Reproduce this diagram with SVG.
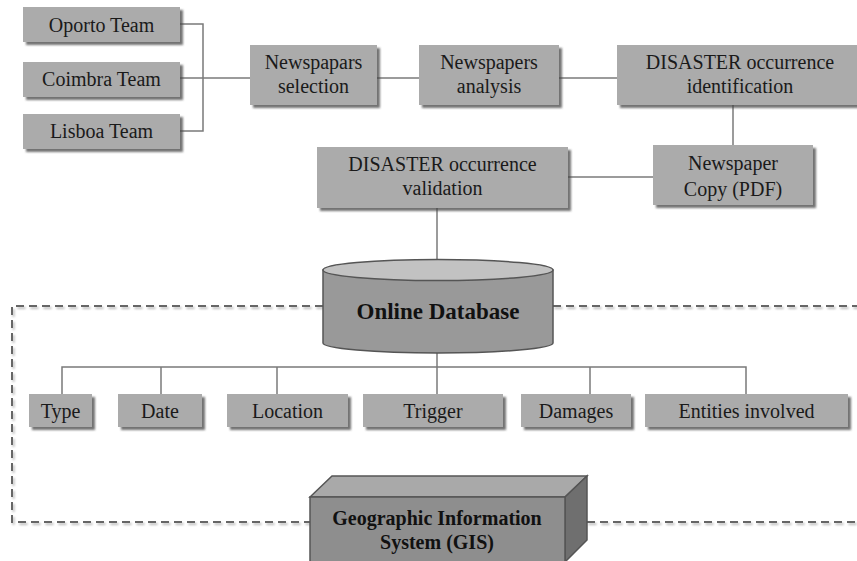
<svg xmlns="http://www.w3.org/2000/svg" width="857" height="561" viewBox="0 0 857 561">
<style>
.box{fill:#ababab;filter:url(#sh)}
.t{font-family:"Liberation Serif","Times New Roman",serif;font-size:20px;fill:#1a1a1a;text-anchor:middle}
.tb{font-family:"Liberation Serif","Times New Roman",serif;font-weight:bold;fill:#111;text-anchor:middle}
.c{fill:none;stroke:#7a7a7a;stroke-width:1.5}
.dash{fill:none;stroke:#666;stroke-width:2;stroke-dasharray:8 5;filter:url(#dsh)}
.solid{stroke:#555;stroke-width:1.5}
</style>
<defs>
<filter id="sh" x="-10%" y="-10%" width="130%" height="140%">
<feDropShadow dx="3" dy="3" stdDeviation="1.3" flood-color="#444" flood-opacity="0.75"/>
</filter>
<filter id="dsh" filterUnits="userSpaceOnUse" x="0" y="0" width="857" height="561">
<feDropShadow dx="1.5" dy="2" stdDeviation="1.2" flood-color="#888" flood-opacity="0.6"/>
</filter>
</defs>
<rect width="857" height="561" fill="#fff"/>

<g id="frame">
<path class="dash" d="M323 306 H12 V522 H310"/>
<path class="dash" d="M553 306 H860"/>
<path class="dash" d="M587 522 H860"/>
</g>

<g id="connectors">
<path class="c" d="M180 24 H203 V131 H180"/>
<path class="c" d="M180 78 H250"/>
<path class="c" d="M377 78 H419"/>
<path class="c" d="M559 78 H617"/>
<path class="c" d="M733 105 V145"/>
<path class="c" d="M568 177 H653"/>
<path class="c" d="M437 208 V260"/>
<path class="c" d="M437 353 V394"/>
<path class="c" d="M62 394 V367 H746 V394"/>
<path class="c" d="M161 367 V394"/>
<path class="c" d="M277 367 V394"/>
<path class="c" d="M590 367 V394"/>
</g>

<g id="oporto"><rect class="box" x="23" y="7" width="157" height="35"/><text class="t" x="101.5" y="32">Oporto Team</text></g>
<g id="coimbra"><rect class="box" x="23" y="62" width="157" height="35"/><text class="t" x="101.5" y="86">Coimbra Team</text></g>
<g id="lisboa"><rect class="box" x="23" y="114" width="157" height="35"/><text class="t" x="101.5" y="138">Lisboa Team</text></g>

<g id="selection"><rect class="box" x="250" y="45" width="127" height="60"/><text class="t" x="313.5" y="69">Newspapars</text><text class="t" x="313.5" y="93">selection</text></g>
<g id="analysis"><rect class="box" x="419" y="45" width="140" height="60"/><text class="t" x="489" y="69">Newspapers</text><text class="t" x="489" y="93">analysis</text></g>
<g id="identification"><rect class="box" x="617" y="45" width="246" height="60"/><text class="t" x="740" y="69">DISASTER occurrence</text><text class="t" x="740" y="93">identification</text></g>
<g id="copy"><rect class="box" x="653" y="145" width="160" height="60"/><text class="t" x="733" y="170">Newspaper</text><text class="t" x="733" y="196">Copy (PDF)</text></g>
<g id="validation"><rect class="box" x="317" y="147" width="251" height="61"/><text class="t" x="442.5" y="171">DISASTER occurrence</text><text class="t" x="442.5" y="195">validation</text></g>

<g id="database">
<path d="M323 270 V343 A115 10 0 0 0 553 343 V270 Z" fill="#999" class="solid"/>
<ellipse cx="438" cy="270" rx="115" ry="10.5" fill="#c2c2c2" class="solid"/>
<text class="tb" x="438" y="319" font-size="23">Online Database</text>
</g>

<g id="type"><rect class="box" x="29" y="394" width="63" height="33"/><text class="t" x="60.5" y="418">Type</text></g>
<g id="date"><rect class="box" x="118" y="394" width="84" height="33"/><text class="t" x="160" y="418">Date</text></g>
<g id="location"><rect class="box" x="227" y="394" width="121" height="33"/><text class="t" x="287.5" y="418">Location</text></g>
<g id="trigger"><rect class="box" x="363" y="394" width="140" height="33"/><text class="t" x="433" y="418">Trigger</text></g>
<g id="damages"><rect class="box" x="521" y="394" width="110" height="33"/><text class="t" x="576" y="418">Damages</text></g>
<g id="entities"><rect class="box" x="645" y="394" width="203" height="33"/><text class="t" x="746.5" y="418">Entities involved</text></g>

<g id="gis">
<polygon points="310,497 332,476 587,476 565,497" fill="#a9a9a9" class="solid"/>
<polygon points="565,497 587,476 587,540 565,562" fill="#6f6f6f" class="solid"/>
<rect x="310" y="497" width="255" height="66" fill="#8e8e8e" class="solid"/>
<text class="tb" x="437" y="525" font-size="20">Geographic Information</text>
<text class="tb" x="437" y="549" font-size="20">System (GIS)</text>
</g>
</svg>
